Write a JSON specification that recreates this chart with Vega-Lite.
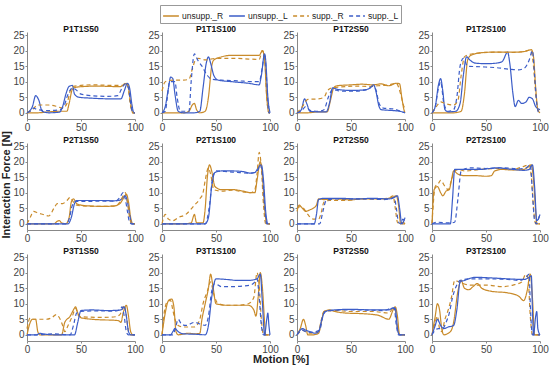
{
"$schema": "https://vega.github.io/schema/vega-lite/v6.json",
"padding": {"left": 0, "top": 4, "right": 2, "bottom": 2},
"title": {"text": "Interaction Force [N]", "orient": "left", "anchor": "middle", "fontSize": 11, "fontWeight": "bold", "font": "Liberation Sans", "offset": 1, "color": "#222"},
"data": {"values": [
{"panel":"P1T1S50","series":"unsupp._R","x":0,"y":0},{"panel":"P1T1S50","series":"unsupp._R","x":10,"y":0},{"panel":"P1T1S50","series":"unsupp._R","x":20,"y":0.3},{"panel":"P1T1S50","series":"unsupp._R","x":30,"y":0.5},{"panel":"P1T1S50","series":"unsupp._R","x":37,"y":0.5},{"panel":"P1T1S50","series":"unsupp._R","x":39,"y":3},{"panel":"P1T1S50","series":"unsupp._R","x":42,"y":7.5},{"panel":"P1T1S50","series":"unsupp._R","x":45,"y":8.2},{"panel":"P1T1S50","series":"unsupp._R","x":55,"y":8.5},{"panel":"P1T1S50","series":"unsupp._R","x":65,"y":8.6},{"panel":"P1T1S50","series":"unsupp._R","x":75,"y":8.5},{"panel":"P1T1S50","series":"unsupp._R","x":85,"y":8.4},{"panel":"P1T1S50","series":"unsupp._R","x":90,"y":9},{"panel":"P1T1S50","series":"unsupp._R","x":92,"y":9.5},{"panel":"P1T1S50","series":"unsupp._R","x":94,"y":8},{"panel":"P1T1S50","series":"unsupp._R","x":96,"y":3},{"panel":"P1T1S50","series":"unsupp._R","x":98,"y":0},{"panel":"P1T1S50","series":"unsupp._R","x":100,"y":0},
{"panel":"P1T1S50","series":"unsupp._L","x":0,"y":0},{"panel":"P1T1S50","series":"unsupp._L","x":5,"y":2},{"panel":"P1T1S50","series":"unsupp._L","x":8,"y":5.5},{"panel":"P1T1S50","series":"unsupp._L","x":11,"y":4},{"panel":"P1T1S50","series":"unsupp._L","x":14,"y":0.5},{"panel":"P1T1S50","series":"unsupp._L","x":20,"y":0},{"panel":"P1T1S50","series":"unsupp._L","x":30,"y":0.2},{"panel":"P1T1S50","series":"unsupp._L","x":33,"y":2},{"panel":"P1T1S50","series":"unsupp._L","x":36,"y":6},{"panel":"P1T1S50","series":"unsupp._L","x":39,"y":8.5},{"panel":"P1T1S50","series":"unsupp._L","x":42,"y":8.8},{"panel":"P1T1S50","series":"unsupp._L","x":44,"y":6},{"panel":"P1T1S50","series":"unsupp._L","x":48,"y":5},{"panel":"P1T1S50","series":"unsupp._L","x":60,"y":4.7},{"panel":"P1T1S50","series":"unsupp._L","x":75,"y":4.5},{"panel":"P1T1S50","series":"unsupp._L","x":87,"y":4.5},{"panel":"P1T1S50","series":"unsupp._L","x":90,"y":7},{"panel":"P1T1S50","series":"unsupp._L","x":93,"y":9.5},{"panel":"P1T1S50","series":"unsupp._L","x":95,"y":8},{"panel":"P1T1S50","series":"unsupp._L","x":97,"y":3},{"panel":"P1T1S50","series":"unsupp._L","x":99,"y":0},{"panel":"P1T1S50","series":"unsupp._L","x":100,"y":0},
{"panel":"P1T1S50","series":"supp._R","x":0,"y":0},{"panel":"P1T1S50","series":"supp._R","x":5,"y":1},{"panel":"P1T1S50","series":"supp._R","x":10,"y":2.5},{"panel":"P1T1S50","series":"supp._R","x":20,"y":2.5},{"panel":"P1T1S50","series":"supp._R","x":28,"y":2},{"panel":"P1T1S50","series":"supp._R","x":33,"y":1.5},{"panel":"P1T1S50","series":"supp._R","x":37,"y":3},{"panel":"P1T1S50","series":"supp._R","x":40,"y":7},{"panel":"P1T1S50","series":"supp._R","x":43,"y":8.5},{"panel":"P1T1S50","series":"supp._R","x":50,"y":8.8},{"panel":"P1T1S50","series":"supp._R","x":60,"y":9},{"panel":"P1T1S50","series":"supp._R","x":70,"y":8.9},{"panel":"P1T1S50","series":"supp._R","x":80,"y":8.8},{"panel":"P1T1S50","series":"supp._R","x":88,"y":8.8},{"panel":"P1T1S50","series":"supp._R","x":91,"y":9.5},{"panel":"P1T1S50","series":"supp._R","x":93,"y":9},{"panel":"P1T1S50","series":"supp._R","x":96,"y":2},{"panel":"P1T1S50","series":"supp._R","x":98,"y":0},{"panel":"P1T1S50","series":"supp._R","x":100,"y":0},
{"panel":"P1T1S50","series":"supp._L","x":0,"y":0},{"panel":"P1T1S50","series":"supp._L","x":3,"y":0.5},{"panel":"P1T1S50","series":"supp._L","x":6,"y":1.5},{"panel":"P1T1S50","series":"supp._L","x":10,"y":1},{"panel":"P1T1S50","series":"supp._L","x":20,"y":0.7},{"panel":"P1T1S50","series":"supp._L","x":30,"y":1},{"panel":"P1T1S50","series":"supp._L","x":34,"y":2},{"panel":"P1T1S50","series":"supp._L","x":38,"y":6},{"panel":"P1T1S50","series":"supp._L","x":42,"y":8},{"panel":"P1T1S50","series":"supp._L","x":45,"y":7.5},{"panel":"P1T1S50","series":"supp._L","x":50,"y":6},{"panel":"P1T1S50","series":"supp._L","x":60,"y":5.5},{"panel":"P1T1S50","series":"supp._L","x":75,"y":5.3},{"panel":"P1T1S50","series":"supp._L","x":84,"y":5.5},{"panel":"P1T1S50","series":"supp._L","x":88,"y":8},{"panel":"P1T1S50","series":"supp._L","x":91,"y":9.3},{"panel":"P1T1S50","series":"supp._L","x":94,"y":8},{"panel":"P1T1S50","series":"supp._L","x":96,"y":3},{"panel":"P1T1S50","series":"supp._L","x":98,"y":0},{"panel":"P1T1S50","series":"supp._L","x":100,"y":0},

{"panel":"P1T1S100","series":"unsupp._R","x":0,"y":0},{"panel":"P1T1S100","series":"unsupp._R","x":20,"y":0},{"panel":"P1T1S100","series":"unsupp._R","x":25,"y":0.5},{"panel":"P1T1S100","series":"unsupp._R","x":28,"y":2.5},{"panel":"P1T1S100","series":"unsupp._R","x":30,"y":3},{"panel":"P1T1S100","series":"unsupp._R","x":32,"y":1},{"panel":"P1T1S100","series":"unsupp._R","x":35,"y":0},{"panel":"P1T1S100","series":"unsupp._R","x":40,"y":0.5},{"panel":"P1T1S100","series":"unsupp._R","x":43,"y":5},{"panel":"P1T1S100","series":"unsupp._R","x":46,"y":15},{"panel":"P1T1S100","series":"unsupp._R","x":48,"y":17},{"panel":"P1T1S100","series":"unsupp._R","x":55,"y":18},{"panel":"P1T1S100","series":"unsupp._R","x":65,"y":18.5},{"panel":"P1T1S100","series":"unsupp._R","x":75,"y":18.5},{"panel":"P1T1S100","series":"unsupp._R","x":85,"y":18.5},{"panel":"P1T1S100","series":"unsupp._R","x":90,"y":18.5},{"panel":"P1T1S100","series":"unsupp._R","x":93,"y":20},{"panel":"P1T1S100","series":"unsupp._R","x":95,"y":17},{"panel":"P1T1S100","series":"unsupp._R","x":97,"y":5},{"panel":"P1T1S100","series":"unsupp._R","x":99,"y":0},{"panel":"P1T1S100","series":"unsupp._R","x":100,"y":0},
{"panel":"P1T1S100","series":"unsupp._L","x":0,"y":0},{"panel":"P1T1S100","series":"unsupp._L","x":3,"y":2},{"panel":"P1T1S100","series":"unsupp._L","x":6,"y":8},{"panel":"P1T1S100","series":"unsupp._L","x":8,"y":11.5},{"panel":"P1T1S100","series":"unsupp._L","x":10,"y":11},{"panel":"P1T1S100","series":"unsupp._L","x":12,"y":6},{"panel":"P1T1S100","series":"unsupp._L","x":15,"y":0.5},{"panel":"P1T1S100","series":"unsupp._L","x":20,"y":0},{"panel":"P1T1S100","series":"unsupp._L","x":30,"y":0},{"panel":"P1T1S100","series":"unsupp._L","x":35,"y":0.5},{"panel":"P1T1S100","series":"unsupp._L","x":38,"y":8},{"panel":"P1T1S100","series":"unsupp._L","x":41,"y":16},{"panel":"P1T1S100","series":"unsupp._L","x":43,"y":18},{"panel":"P1T1S100","series":"unsupp._L","x":45,"y":16},{"panel":"P1T1S100","series":"unsupp._L","x":48,"y":12},{"panel":"P1T1S100","series":"unsupp._L","x":52,"y":10.5},{"panel":"P1T1S100","series":"unsupp._L","x":65,"y":10},{"panel":"P1T1S100","series":"unsupp._L","x":80,"y":9.5},{"panel":"P1T1S100","series":"unsupp._L","x":90,"y":9},{"panel":"P1T1S100","series":"unsupp._L","x":92,"y":12},{"panel":"P1T1S100","series":"unsupp._L","x":95,"y":19},{"panel":"P1T1S100","series":"unsupp._L","x":96,"y":17},{"panel":"P1T1S100","series":"unsupp._L","x":98,"y":5},{"panel":"P1T1S100","series":"unsupp._L","x":100,"y":0},
{"panel":"P1T1S100","series":"supp._R","x":0,"y":7},{"panel":"P1T1S100","series":"supp._R","x":3,"y":10},{"panel":"P1T1S100","series":"supp._R","x":10,"y":10.5},{"panel":"P1T1S100","series":"supp._R","x":20,"y":10.5},{"panel":"P1T1S100","series":"supp._R","x":25,"y":10.8},{"panel":"P1T1S100","series":"supp._R","x":28,"y":14},{"panel":"P1T1S100","series":"supp._R","x":31,"y":17},{"panel":"P1T1S100","series":"supp._R","x":34,"y":17.5},{"panel":"P1T1S100","series":"supp._R","x":40,"y":17},{"panel":"P1T1S100","series":"supp._R","x":50,"y":17.5},{"panel":"P1T1S100","series":"supp._R","x":60,"y":17.5},{"panel":"P1T1S100","series":"supp._R","x":70,"y":17.5},{"panel":"P1T1S100","series":"supp._R","x":80,"y":17.3},{"panel":"P1T1S100","series":"supp._R","x":90,"y":17.2},{"panel":"P1T1S100","series":"supp._R","x":93,"y":20},{"panel":"P1T1S100","series":"supp._R","x":95,"y":18},{"panel":"P1T1S100","series":"supp._R","x":97,"y":5},{"panel":"P1T1S100","series":"supp._R","x":99,"y":0},{"panel":"P1T1S100","series":"supp._R","x":100,"y":0},
{"panel":"P1T1S100","series":"supp._L","x":0,"y":0},{"panel":"P1T1S100","series":"supp._L","x":3,"y":0.5},{"panel":"P1T1S100","series":"supp._L","x":5,"y":5},{"panel":"P1T1S100","series":"supp._L","x":7,"y":10},{"panel":"P1T1S100","series":"supp._L","x":12,"y":10},{"panel":"P1T1S100","series":"supp._L","x":14,"y":5},{"panel":"P1T1S100","series":"supp._L","x":17,"y":0.5},{"panel":"P1T1S100","series":"supp._L","x":25,"y":0.5},{"panel":"P1T1S100","series":"supp._L","x":27,"y":10},{"panel":"P1T1S100","series":"supp._L","x":30,"y":19},{"panel":"P1T1S100","series":"supp._L","x":33,"y":17},{"panel":"P1T1S100","series":"supp._L","x":37,"y":15},{"panel":"P1T1S100","series":"supp._L","x":42,"y":12},{"panel":"P1T1S100","series":"supp._L","x":46,"y":10.8},{"panel":"P1T1S100","series":"supp._L","x":55,"y":10.5},{"panel":"P1T1S100","series":"supp._L","x":70,"y":10.3},{"panel":"P1T1S100","series":"supp._L","x":85,"y":10},{"panel":"P1T1S100","series":"supp._L","x":90,"y":10},{"panel":"P1T1S100","series":"supp._L","x":93,"y":15},{"panel":"P1T1S100","series":"supp._L","x":95,"y":19},{"panel":"P1T1S100","series":"supp._L","x":97,"y":10},{"panel":"P1T1S100","series":"supp._L","x":99,"y":0},{"panel":"P1T1S100","series":"supp._L","x":100,"y":0},

{"panel":"P1T2S50","series":"unsupp._R","x":0,"y":0},{"panel":"P1T2S50","series":"unsupp._R","x":10,"y":0},{"panel":"P1T2S50","series":"unsupp._R","x":20,"y":0.3},{"panel":"P1T2S50","series":"unsupp._R","x":28,"y":0.3},{"panel":"P1T2S50","series":"unsupp._R","x":31,"y":4},{"panel":"P1T2S50","series":"unsupp._R","x":34,"y":8},{"panel":"P1T2S50","series":"unsupp._R","x":37,"y":8.7},{"panel":"P1T2S50","series":"unsupp._R","x":50,"y":9},{"panel":"P1T2S50","series":"unsupp._R","x":60,"y":9.2},{"panel":"P1T2S50","series":"unsupp._R","x":70,"y":9},{"panel":"P1T2S50","series":"unsupp._R","x":78,"y":9.3},{"panel":"P1T2S50","series":"unsupp._R","x":85,"y":8.7},{"panel":"P1T2S50","series":"unsupp._R","x":92,"y":9.5},{"panel":"P1T2S50","series":"unsupp._R","x":95,"y":9.3},{"panel":"P1T2S50","series":"unsupp._R","x":97,"y":5},{"panel":"P1T2S50","series":"unsupp._R","x":99,"y":1},{"panel":"P1T2S50","series":"unsupp._R","x":100,"y":0},
{"panel":"P1T2S50","series":"unsupp._L","x":0,"y":0},{"panel":"P1T2S50","series":"unsupp._L","x":4,"y":1},{"panel":"P1T2S50","series":"unsupp._L","x":7,"y":4.5},{"panel":"P1T2S50","series":"unsupp._L","x":9,"y":3},{"panel":"P1T2S50","series":"unsupp._L","x":12,"y":0.5},{"panel":"P1T2S50","series":"unsupp._L","x":20,"y":0.3},{"panel":"P1T2S50","series":"unsupp._L","x":27,"y":0.3},{"panel":"P1T2S50","series":"unsupp._L","x":30,"y":3},{"panel":"P1T2S50","series":"unsupp._L","x":33,"y":8},{"panel":"P1T2S50","series":"unsupp._L","x":38,"y":7.5},{"panel":"P1T2S50","series":"unsupp._L","x":50,"y":7.2},{"panel":"P1T2S50","series":"unsupp._L","x":60,"y":7.3},{"panel":"P1T2S50","series":"unsupp._L","x":67,"y":7.8},{"panel":"P1T2S50","series":"unsupp._L","x":71,"y":9},{"panel":"P1T2S50","series":"unsupp._L","x":73,"y":7},{"panel":"P1T2S50","series":"unsupp._L","x":76,"y":2},{"panel":"P1T2S50","series":"unsupp._L","x":78,"y":1},{"panel":"P1T2S50","series":"unsupp._L","x":85,"y":0.8},{"panel":"P1T2S50","series":"unsupp._L","x":95,"y":0.5},{"panel":"P1T2S50","series":"unsupp._L","x":100,"y":0},
{"panel":"P1T2S50","series":"supp._R","x":0,"y":0},{"panel":"P1T2S50","series":"supp._R","x":5,"y":2},{"panel":"P1T2S50","series":"supp._R","x":10,"y":4.3},{"panel":"P1T2S50","series":"supp._R","x":20,"y":4.5},{"panel":"P1T2S50","series":"supp._R","x":25,"y":5},{"panel":"P1T2S50","series":"supp._R","x":28,"y":7},{"panel":"P1T2S50","series":"supp._R","x":32,"y":8},{"panel":"P1T2S50","series":"supp._R","x":40,"y":8.3},{"panel":"P1T2S50","series":"supp._R","x":55,"y":8.6},{"panel":"P1T2S50","series":"supp._R","x":65,"y":8.5},{"panel":"P1T2S50","series":"supp._R","x":75,"y":8.7},{"panel":"P1T2S50","series":"supp._R","x":85,"y":9},{"panel":"P1T2S50","series":"supp._R","x":92,"y":9.5},{"panel":"P1T2S50","series":"supp._R","x":96,"y":6},{"panel":"P1T2S50","series":"supp._R","x":99,"y":2},{"panel":"P1T2S50","series":"supp._R","x":100,"y":1.5},
{"panel":"P1T2S50","series":"supp._L","x":0,"y":0},{"panel":"P1T2S50","series":"supp._L","x":4,"y":0.5},{"panel":"P1T2S50","series":"supp._L","x":8,"y":2},{"panel":"P1T2S50","series":"supp._L","x":12,"y":0.8},{"panel":"P1T2S50","series":"supp._L","x":20,"y":0.5},{"panel":"P1T2S50","series":"supp._L","x":25,"y":1},{"panel":"P1T2S50","series":"supp._L","x":29,"y":5},{"panel":"P1T2S50","series":"supp._L","x":33,"y":7.5},{"panel":"P1T2S50","series":"supp._L","x":40,"y":7},{"panel":"P1T2S50","series":"supp._L","x":55,"y":7},{"panel":"P1T2S50","series":"supp._L","x":65,"y":7.5},{"panel":"P1T2S50","series":"supp._L","x":70,"y":8.5},{"panel":"P1T2S50","series":"supp._L","x":73,"y":7.5},{"panel":"P1T2S50","series":"supp._L","x":76,"y":3},{"panel":"P1T2S50","series":"supp._L","x":80,"y":1.5},{"panel":"P1T2S50","series":"supp._L","x":90,"y":1.2},{"panel":"P1T2S50","series":"supp._L","x":97,"y":0.3},{"panel":"P1T2S50","series":"supp._L","x":100,"y":0},

{"panel":"P1T2S100","series":"unsupp._R","x":0,"y":0},{"panel":"P1T2S100","series":"unsupp._R","x":10,"y":0},{"panel":"P1T2S100","series":"unsupp._R","x":20,"y":0},{"panel":"P1T2S100","series":"unsupp._R","x":27,"y":0.5},{"panel":"P1T2S100","series":"unsupp._R","x":30,"y":6},{"panel":"P1T2S100","series":"unsupp._R","x":33,"y":17},{"panel":"P1T2S100","series":"unsupp._R","x":36,"y":18.5},{"panel":"P1T2S100","series":"unsupp._R","x":45,"y":19.3},{"panel":"P1T2S100","series":"unsupp._R","x":55,"y":19.5},{"panel":"P1T2S100","series":"unsupp._R","x":65,"y":19.5},{"panel":"P1T2S100","series":"unsupp._R","x":75,"y":19.5},{"panel":"P1T2S100","series":"unsupp._R","x":85,"y":19.7},{"panel":"P1T2S100","series":"unsupp._R","x":92,"y":20.3},{"panel":"P1T2S100","series":"unsupp._R","x":94,"y":18},{"panel":"P1T2S100","series":"unsupp._R","x":96,"y":8},{"panel":"P1T2S100","series":"unsupp._R","x":98,"y":1},{"panel":"P1T2S100","series":"unsupp._R","x":100,"y":0},
{"panel":"P1T2S100","series":"unsupp._L","x":0,"y":0},{"panel":"P1T2S100","series":"unsupp._L","x":3,"y":2},{"panel":"P1T2S100","series":"unsupp._L","x":6,"y":9},{"panel":"P1T2S100","series":"unsupp._L","x":8,"y":11},{"panel":"P1T2S100","series":"unsupp._L","x":10,"y":7},{"panel":"P1T2S100","series":"unsupp._L","x":12,"y":1},{"panel":"P1T2S100","series":"unsupp._L","x":15,"y":0.3},{"panel":"P1T2S100","series":"unsupp._L","x":22,"y":0.5},{"panel":"P1T2S100","series":"unsupp._L","x":26,"y":3},{"panel":"P1T2S100","series":"unsupp._L","x":29,"y":12},{"panel":"P1T2S100","series":"unsupp._L","x":32,"y":18},{"panel":"P1T2S100","series":"unsupp._L","x":35,"y":17},{"panel":"P1T2S100","series":"unsupp._L","x":40,"y":16},{"panel":"P1T2S100","series":"unsupp._L","x":50,"y":15.8},{"panel":"P1T2S100","series":"unsupp._L","x":60,"y":16},{"panel":"P1T2S100","series":"unsupp._L","x":65,"y":16.5},{"panel":"P1T2S100","series":"unsupp._L","x":70,"y":19.5},{"panel":"P1T2S100","series":"unsupp._L","x":72,"y":16},{"panel":"P1T2S100","series":"unsupp._L","x":75,"y":6},{"panel":"P1T2S100","series":"unsupp._L","x":77,"y":2},{"panel":"P1T2S100","series":"unsupp._L","x":80,"y":4},{"panel":"P1T2S100","series":"unsupp._L","x":83,"y":3},{"panel":"P1T2S100","series":"unsupp._L","x":87,"y":3.5},{"panel":"P1T2S100","series":"unsupp._L","x":90,"y":5},{"panel":"P1T2S100","series":"unsupp._L","x":93,"y":4.5},{"panel":"P1T2S100","series":"unsupp._L","x":96,"y":2},{"panel":"P1T2S100","series":"unsupp._L","x":100,"y":1},
{"panel":"P1T2S100","series":"supp._R","x":0,"y":0},{"panel":"P1T2S100","series":"supp._R","x":4,"y":2},{"panel":"P1T2S100","series":"supp._R","x":8,"y":3.5},{"panel":"P1T2S100","series":"supp._R","x":12,"y":3},{"panel":"P1T2S100","series":"supp._R","x":20,"y":2.5},{"panel":"P1T2S100","series":"supp._R","x":24,"y":4},{"panel":"P1T2S100","series":"supp._R","x":27,"y":12},{"panel":"P1T2S100","series":"supp._R","x":30,"y":18},{"panel":"P1T2S100","series":"supp._R","x":34,"y":18.7},{"panel":"P1T2S100","series":"supp._R","x":45,"y":19.3},{"panel":"P1T2S100","series":"supp._R","x":60,"y":19.5},{"panel":"P1T2S100","series":"supp._R","x":75,"y":19.4},{"panel":"P1T2S100","series":"supp._R","x":85,"y":19.7},{"panel":"P1T2S100","series":"supp._R","x":91,"y":20.2},{"panel":"P1T2S100","series":"supp._R","x":94,"y":15},{"panel":"P1T2S100","series":"supp._R","x":96,"y":6},{"panel":"P1T2S100","series":"supp._R","x":98,"y":1},{"panel":"P1T2S100","series":"supp._R","x":100,"y":0},
{"panel":"P1T2S100","series":"supp._L","x":0,"y":0},{"panel":"P1T2S100","series":"supp._L","x":3,"y":2},{"panel":"P1T2S100","series":"supp._L","x":6,"y":8},{"panel":"P1T2S100","series":"supp._L","x":8,"y":10},{"panel":"P1T2S100","series":"supp._L","x":11,"y":3},{"panel":"P1T2S100","series":"supp._L","x":15,"y":0.5},{"panel":"P1T2S100","series":"supp._L","x":20,"y":1},{"panel":"P1T2S100","series":"supp._L","x":23,"y":5},{"panel":"P1T2S100","series":"supp._L","x":26,"y":15},{"panel":"P1T2S100","series":"supp._L","x":29,"y":17.5},{"panel":"P1T2S100","series":"supp._L","x":33,"y":15},{"panel":"P1T2S100","series":"supp._L","x":45,"y":14.8},{"panel":"P1T2S100","series":"supp._L","x":60,"y":14.5},{"panel":"P1T2S100","series":"supp._L","x":72,"y":14},{"panel":"P1T2S100","series":"supp._L","x":80,"y":13.8},{"panel":"P1T2S100","series":"supp._L","x":86,"y":14.5},{"panel":"P1T2S100","series":"supp._L","x":90,"y":17},{"panel":"P1T2S100","series":"supp._L","x":93,"y":20},{"panel":"P1T2S100","series":"supp._L","x":95,"y":12},{"panel":"P1T2S100","series":"supp._L","x":97,"y":3},{"panel":"P1T2S100","series":"supp._L","x":99,"y":0},{"panel":"P1T2S100","series":"supp._L","x":100,"y":0},

{"panel":"P2T1S50","series":"unsupp._R","x":0,"y":0},{"panel":"P2T1S50","series":"unsupp._R","x":25,"y":0},{"panel":"P2T1S50","series":"unsupp._R","x":28,"y":0.8},{"panel":"P2T1S50","series":"unsupp._R","x":30,"y":1},{"panel":"P2T1S50","series":"unsupp._R","x":32,"y":0.3},{"panel":"P2T1S50","series":"unsupp._R","x":36,"y":0},{"panel":"P2T1S50","series":"unsupp._R","x":39,"y":2},{"panel":"P2T1S50","series":"unsupp._R","x":41,"y":7},{"panel":"P2T1S50","series":"unsupp._R","x":43,"y":8},{"panel":"P2T1S50","series":"unsupp._R","x":46,"y":6.5},{"panel":"P2T1S50","series":"unsupp._R","x":50,"y":6},{"panel":"P2T1S50","series":"unsupp._R","x":60,"y":5.7},{"panel":"P2T1S50","series":"unsupp._R","x":70,"y":5.6},{"panel":"P2T1S50","series":"unsupp._R","x":80,"y":5.7},{"panel":"P2T1S50","series":"unsupp._R","x":86,"y":6.5},{"panel":"P2T1S50","series":"unsupp._R","x":89,"y":8},{"panel":"P2T1S50","series":"unsupp._R","x":92,"y":9.5},{"panel":"P2T1S50","series":"unsupp._R","x":94,"y":7},{"panel":"P2T1S50","series":"unsupp._R","x":96,"y":2},{"panel":"P2T1S50","series":"unsupp._R","x":98,"y":0},{"panel":"P2T1S50","series":"unsupp._R","x":100,"y":0},
{"panel":"P2T1S50","series":"unsupp._L","x":0,"y":0},{"panel":"P2T1S50","series":"unsupp._L","x":20,"y":0},{"panel":"P2T1S50","series":"unsupp._L","x":38,"y":0},{"panel":"P2T1S50","series":"unsupp._L","x":41,"y":2},{"panel":"P2T1S50","series":"unsupp._L","x":44,"y":6.5},{"panel":"P2T1S50","series":"unsupp._L","x":46,"y":7.5},{"panel":"P2T1S50","series":"unsupp._L","x":55,"y":7.5},{"panel":"P2T1S50","series":"unsupp._L","x":70,"y":7.5},{"panel":"P2T1S50","series":"unsupp._L","x":80,"y":7.4},{"panel":"P2T1S50","series":"unsupp._L","x":86,"y":7.6},{"panel":"P2T1S50","series":"unsupp._L","x":89,"y":8.5},{"panel":"P2T1S50","series":"unsupp._L","x":91,"y":9},{"panel":"P2T1S50","series":"unsupp._L","x":93,"y":7},{"panel":"P2T1S50","series":"unsupp._L","x":95,"y":3},{"panel":"P2T1S50","series":"unsupp._L","x":97,"y":0},{"panel":"P2T1S50","series":"unsupp._L","x":100,"y":0},
{"panel":"P2T1S50","series":"supp._R","x":0,"y":0},{"panel":"P2T1S50","series":"supp._R","x":3,"y":2},{"panel":"P2T1S50","series":"supp._R","x":6,"y":4},{"panel":"P2T1S50","series":"supp._R","x":10,"y":3.5},{"panel":"P2T1S50","series":"supp._R","x":15,"y":3},{"panel":"P2T1S50","series":"supp._R","x":20,"y":2.5},{"panel":"P2T1S50","series":"supp._R","x":25,"y":5},{"panel":"P2T1S50","series":"supp._R","x":28,"y":6.5},{"panel":"P2T1S50","series":"supp._R","x":33,"y":6.5},{"panel":"P2T1S50","series":"supp._R","x":37,"y":7.5},{"panel":"P2T1S50","series":"supp._R","x":40,"y":8.5},{"panel":"P2T1S50","series":"supp._R","x":43,"y":7},{"panel":"P2T1S50","series":"supp._R","x":46,"y":6},{"panel":"P2T1S50","series":"supp._R","x":55,"y":5.7},{"panel":"P2T1S50","series":"supp._R","x":70,"y":5.6},{"panel":"P2T1S50","series":"supp._R","x":82,"y":5.8},{"panel":"P2T1S50","series":"supp._R","x":86,"y":7},{"panel":"P2T1S50","series":"supp._R","x":89,"y":9},{"panel":"P2T1S50","series":"supp._R","x":91,"y":10},{"panel":"P2T1S50","series":"supp._R","x":93,"y":7},{"panel":"P2T1S50","series":"supp._R","x":95,"y":2},{"panel":"P2T1S50","series":"supp._R","x":97,"y":0},{"panel":"P2T1S50","series":"supp._R","x":100,"y":0},
{"panel":"P2T1S50","series":"supp._L","x":0,"y":0},{"panel":"P2T1S50","series":"supp._L","x":20,"y":0},{"panel":"P2T1S50","series":"supp._L","x":36,"y":0},{"panel":"P2T1S50","series":"supp._L","x":39,"y":1.5},{"panel":"P2T1S50","series":"supp._L","x":42,"y":6},{"panel":"P2T1S50","series":"supp._L","x":45,"y":7.2},{"panel":"P2T1S50","series":"supp._L","x":55,"y":7.2},{"panel":"P2T1S50","series":"supp._L","x":70,"y":7.3},{"panel":"P2T1S50","series":"supp._L","x":82,"y":7.3},{"panel":"P2T1S50","series":"supp._L","x":86,"y":8.5},{"panel":"P2T1S50","series":"supp._L","x":89,"y":10},{"panel":"P2T1S50","series":"supp._L","x":91,"y":8},{"panel":"P2T1S50","series":"supp._L","x":93,"y":4},{"panel":"P2T1S50","series":"supp._L","x":95,"y":0.5},{"panel":"P2T1S50","series":"supp._L","x":97,"y":0},{"panel":"P2T1S50","series":"supp._L","x":100,"y":0},

{"panel":"P2T1S100","series":"unsupp._R","x":0,"y":0},{"panel":"P2T1S100","series":"unsupp._R","x":20,"y":0},{"panel":"P2T1S100","series":"unsupp._R","x":27,"y":0.3},{"panel":"P2T1S100","series":"unsupp._R","x":30,"y":3},{"panel":"P2T1S100","series":"unsupp._R","x":32,"y":0.3},{"panel":"P2T1S100","series":"unsupp._R","x":38,"y":0.3},{"panel":"P2T1S100","series":"unsupp._R","x":40,"y":5},{"panel":"P2T1S100","series":"unsupp._R","x":42,"y":15},{"panel":"P2T1S100","series":"unsupp._R","x":44,"y":19},{"panel":"P2T1S100","series":"unsupp._R","x":46,"y":17},{"panel":"P2T1S100","series":"unsupp._R","x":49,"y":12},{"panel":"P2T1S100","series":"unsupp._R","x":55,"y":11},{"panel":"P2T1S100","series":"unsupp._R","x":65,"y":11},{"panel":"P2T1S100","series":"unsupp._R","x":75,"y":10.5},{"panel":"P2T1S100","series":"unsupp._R","x":82,"y":10},{"panel":"P2T1S100","series":"unsupp._R","x":86,"y":10},{"panel":"P2T1S100","series":"unsupp._R","x":88,"y":14},{"panel":"P2T1S100","series":"unsupp._R","x":91,"y":20},{"panel":"P2T1S100","series":"unsupp._R","x":93,"y":15},{"panel":"P2T1S100","series":"unsupp._R","x":95,"y":5},{"panel":"P2T1S100","series":"unsupp._R","x":97,"y":0},{"panel":"P2T1S100","series":"unsupp._R","x":100,"y":0},
{"panel":"P2T1S100","series":"unsupp._L","x":0,"y":0},{"panel":"P2T1S100","series":"unsupp._L","x":20,"y":0},{"panel":"P2T1S100","series":"unsupp._L","x":40,"y":0},{"panel":"P2T1S100","series":"unsupp._L","x":43,"y":2},{"panel":"P2T1S100","series":"unsupp._L","x":46,"y":12},{"panel":"P2T1S100","series":"unsupp._L","x":49,"y":16.5},{"panel":"P2T1S100","series":"unsupp._L","x":55,"y":17},{"panel":"P2T1S100","series":"unsupp._L","x":65,"y":17},{"panel":"P2T1S100","series":"unsupp._L","x":75,"y":16.8},{"panel":"P2T1S100","series":"unsupp._L","x":82,"y":16.3},{"panel":"P2T1S100","series":"unsupp._L","x":86,"y":16.5},{"panel":"P2T1S100","series":"unsupp._L","x":89,"y":18},{"panel":"P2T1S100","series":"unsupp._L","x":92,"y":19},{"panel":"P2T1S100","series":"unsupp._L","x":94,"y":14},{"panel":"P2T1S100","series":"unsupp._L","x":96,"y":4},{"panel":"P2T1S100","series":"unsupp._L","x":98,"y":0},{"panel":"P2T1S100","series":"unsupp._L","x":100,"y":0},
{"panel":"P2T1S100","series":"supp._R","x":0,"y":0},{"panel":"P2T1S100","series":"supp._R","x":3,"y":3},{"panel":"P2T1S100","series":"supp._R","x":6,"y":1.5},{"panel":"P2T1S100","series":"supp._R","x":10,"y":1},{"panel":"P2T1S100","series":"supp._R","x":15,"y":2},{"panel":"P2T1S100","series":"supp._R","x":22,"y":3},{"panel":"P2T1S100","series":"supp._R","x":30,"y":6},{"panel":"P2T1S100","series":"supp._R","x":35,"y":8},{"panel":"P2T1S100","series":"supp._R","x":38,"y":10},{"panel":"P2T1S100","series":"supp._R","x":40,"y":14},{"panel":"P2T1S100","series":"supp._R","x":43,"y":18},{"panel":"P2T1S100","series":"supp._R","x":45,"y":16},{"panel":"P2T1S100","series":"supp._R","x":48,"y":11},{"panel":"P2T1S100","series":"supp._R","x":55,"y":10.5},{"panel":"P2T1S100","series":"supp._R","x":65,"y":10.8},{"panel":"P2T1S100","series":"supp._R","x":75,"y":10.3},{"panel":"P2T1S100","series":"supp._R","x":82,"y":10},{"panel":"P2T1S100","series":"supp._R","x":86,"y":11},{"panel":"P2T1S100","series":"supp._R","x":88,"y":16},{"panel":"P2T1S100","series":"supp._R","x":90,"y":23},{"panel":"P2T1S100","series":"supp._R","x":92,"y":18},{"panel":"P2T1S100","series":"supp._R","x":94,"y":6},{"panel":"P2T1S100","series":"supp._R","x":96,"y":0},{"panel":"P2T1S100","series":"supp._R","x":100,"y":0},
{"panel":"P2T1S100","series":"supp._L","x":0,"y":0},{"panel":"P2T1S100","series":"supp._L","x":20,"y":0},{"panel":"P2T1S100","series":"supp._L","x":40,"y":0},{"panel":"P2T1S100","series":"supp._L","x":44,"y":6},{"panel":"P2T1S100","series":"supp._L","x":47,"y":15},{"panel":"P2T1S100","series":"supp._L","x":50,"y":17},{"panel":"P2T1S100","series":"supp._L","x":60,"y":16.8},{"panel":"P2T1S100","series":"supp._L","x":70,"y":16.5},{"panel":"P2T1S100","series":"supp._L","x":80,"y":16.3},{"panel":"P2T1S100","series":"supp._L","x":86,"y":16.5},{"panel":"P2T1S100","series":"supp._L","x":89,"y":17.5},{"panel":"P2T1S100","series":"supp._L","x":91,"y":19},{"panel":"P2T1S100","series":"supp._L","x":93,"y":16},{"panel":"P2T1S100","series":"supp._L","x":95,"y":6},{"panel":"P2T1S100","series":"supp._L","x":97,"y":0},{"panel":"P2T1S100","series":"supp._L","x":100,"y":0},

{"panel":"P2T2S50","series":"unsupp._R","x":0,"y":4},{"panel":"P2T2S50","series":"unsupp._R","x":2,"y":6},{"panel":"P2T2S50","series":"unsupp._R","x":5,"y":5},{"panel":"P2T2S50","series":"unsupp._R","x":8,"y":4},{"panel":"P2T2S50","series":"unsupp._R","x":12,"y":4.5},{"panel":"P2T2S50","series":"unsupp._R","x":15,"y":5},{"panel":"P2T2S50","series":"unsupp._R","x":18,"y":6},{"panel":"P2T2S50","series":"unsupp._R","x":20,"y":8},{"panel":"P2T2S50","series":"unsupp._R","x":25,"y":7.8},{"panel":"P2T2S50","series":"unsupp._R","x":35,"y":8},{"panel":"P2T2S50","series":"unsupp._R","x":50,"y":7.7},{"panel":"P2T2S50","series":"unsupp._R","x":60,"y":8},{"panel":"P2T2S50","series":"unsupp._R","x":70,"y":8},{"panel":"P2T2S50","series":"unsupp._R","x":80,"y":8},{"panel":"P2T2S50","series":"unsupp._R","x":88,"y":8.5},{"panel":"P2T2S50","series":"unsupp._R","x":92,"y":9},{"panel":"P2T2S50","series":"unsupp._R","x":94,"y":6},{"panel":"P2T2S50","series":"unsupp._R","x":96,"y":0},{"panel":"P2T2S50","series":"unsupp._R","x":98,"y":0.5},{"panel":"P2T2S50","series":"unsupp._R","x":100,"y":0},
{"panel":"P2T2S50","series":"supp._R","x":0,"y":5},{"panel":"P2T2S50","series":"supp._R","x":3,"y":5.5},{"panel":"P2T2S50","series":"supp._R","x":6,"y":5},{"panel":"P2T2S50","series":"supp._R","x":10,"y":3},{"panel":"P2T2S50","series":"supp._R","x":15,"y":1.5},{"panel":"P2T2S50","series":"supp._R","x":20,"y":1.5},{"panel":"P2T2S50","series":"supp._R","x":22,"y":3},{"panel":"P2T2S50","series":"supp._R","x":25,"y":7},{"panel":"P2T2S50","series":"supp._R","x":30,"y":7.5},{"panel":"P2T2S50","series":"supp._R","x":45,"y":7.5},{"panel":"P2T2S50","series":"supp._R","x":60,"y":8},{"panel":"P2T2S50","series":"supp._R","x":75,"y":8},{"panel":"P2T2S50","series":"supp._R","x":85,"y":8.3},{"panel":"P2T2S50","series":"supp._R","x":89,"y":9},{"panel":"P2T2S50","series":"supp._R","x":91,"y":5},{"panel":"P2T2S50","series":"supp._R","x":93,"y":0.5},{"panel":"P2T2S50","series":"supp._R","x":95,"y":0},{"panel":"P2T2S50","series":"supp._R","x":100,"y":0},
{"panel":"P2T2S50","series":"unsupp._L","x":0,"y":0},{"panel":"P2T2S50","series":"unsupp._L","x":10,"y":0},{"panel":"P2T2S50","series":"unsupp._L","x":16,"y":0},{"panel":"P2T2S50","series":"unsupp._L","x":18,"y":3},{"panel":"P2T2S50","series":"unsupp._L","x":20,"y":7.8},{"panel":"P2T2S50","series":"unsupp._L","x":25,"y":8.2},{"panel":"P2T2S50","series":"unsupp._L","x":40,"y":8.2},{"panel":"P2T2S50","series":"unsupp._L","x":55,"y":8},{"panel":"P2T2S50","series":"unsupp._L","x":70,"y":8.2},{"panel":"P2T2S50","series":"unsupp._L","x":85,"y":8},{"panel":"P2T2S50","series":"unsupp._L","x":90,"y":8.5},{"panel":"P2T2S50","series":"unsupp._L","x":93,"y":9},{"panel":"P2T2S50","series":"unsupp._L","x":95,"y":5},{"panel":"P2T2S50","series":"unsupp._L","x":97,"y":0},{"panel":"P2T2S50","series":"unsupp._L","x":99,"y":1},{"panel":"P2T2S50","series":"unsupp._L","x":100,"y":2},
{"panel":"P2T2S50","series":"supp._L","x":0,"y":0},{"panel":"P2T2S50","series":"supp._L","x":15,"y":0},{"panel":"P2T2S50","series":"supp._L","x":21,"y":0},{"panel":"P2T2S50","series":"supp._L","x":24,"y":4},{"panel":"P2T2S50","series":"supp._L","x":27,"y":7.5},{"panel":"P2T2S50","series":"supp._L","x":35,"y":8},{"panel":"P2T2S50","series":"supp._L","x":50,"y":8},{"panel":"P2T2S50","series":"supp._L","x":65,"y":8},{"panel":"P2T2S50","series":"supp._L","x":80,"y":7.8},{"panel":"P2T2S50","series":"supp._L","x":88,"y":8.2},{"panel":"P2T2S50","series":"supp._L","x":90,"y":8.5},{"panel":"P2T2S50","series":"supp._L","x":92,"y":5},{"panel":"P2T2S50","series":"supp._L","x":94,"y":0.5},{"panel":"P2T2S50","series":"supp._L","x":96,"y":0},{"panel":"P2T2S50","series":"supp._L","x":98,"y":1.5},{"panel":"P2T2S50","series":"supp._L","x":100,"y":0.5},

{"panel":"P2T2S100","series":"unsupp._R","x":0,"y":0},{"panel":"P2T2S100","series":"unsupp._R","x":2,"y":11},{"panel":"P2T2S100","series":"unsupp._R","x":5,"y":12},{"panel":"P2T2S100","series":"unsupp._R","x":8,"y":10},{"panel":"P2T2S100","series":"unsupp._R","x":10,"y":9},{"panel":"P2T2S100","series":"unsupp._R","x":13,"y":10.5},{"panel":"P2T2S100","series":"unsupp._R","x":16,"y":11},{"panel":"P2T2S100","series":"unsupp._R","x":18,"y":14},{"panel":"P2T2S100","series":"unsupp._R","x":20,"y":17},{"panel":"P2T2S100","series":"unsupp._R","x":24,"y":16},{"panel":"P2T2S100","series":"unsupp._R","x":30,"y":15.5},{"panel":"P2T2S100","series":"unsupp._R","x":40,"y":15.5},{"panel":"P2T2S100","series":"unsupp._R","x":50,"y":15.3},{"panel":"P2T2S100","series":"unsupp._R","x":55,"y":15.5},{"panel":"P2T2S100","series":"unsupp._R","x":58,"y":17},{"panel":"P2T2S100","series":"unsupp._R","x":65,"y":17.5},{"panel":"P2T2S100","series":"unsupp._R","x":75,"y":17.3},{"panel":"P2T2S100","series":"unsupp._R","x":85,"y":17.5},{"panel":"P2T2S100","series":"unsupp._R","x":90,"y":18.5},{"panel":"P2T2S100","series":"unsupp._R","x":92,"y":19},{"panel":"P2T2S100","series":"unsupp._R","x":94,"y":14},{"panel":"P2T2S100","series":"unsupp._R","x":96,"y":4},{"panel":"P2T2S100","series":"unsupp._R","x":97,"y":0},{"panel":"P2T2S100","series":"unsupp._R","x":100,"y":0},
{"panel":"P2T2S100","series":"supp._R","x":0,"y":0},{"panel":"P2T2S100","series":"supp._R","x":3,"y":12},{"panel":"P2T2S100","series":"supp._R","x":6,"y":13},{"panel":"P2T2S100","series":"supp._R","x":8,"y":14},{"panel":"P2T2S100","series":"supp._R","x":12,"y":12},{"panel":"P2T2S100","series":"supp._R","x":15,"y":11},{"panel":"P2T2S100","series":"supp._R","x":18,"y":14},{"panel":"P2T2S100","series":"supp._R","x":21,"y":17},{"panel":"P2T2S100","series":"supp._R","x":25,"y":17.5},{"panel":"P2T2S100","series":"supp._R","x":30,"y":17},{"panel":"P2T2S100","series":"supp._R","x":45,"y":17.5},{"panel":"P2T2S100","series":"supp._R","x":60,"y":17.8},{"panel":"P2T2S100","series":"supp._R","x":75,"y":17.5},{"panel":"P2T2S100","series":"supp._R","x":85,"y":18.5},{"panel":"P2T2S100","series":"supp._R","x":90,"y":19},{"panel":"P2T2S100","series":"supp._R","x":92,"y":15},{"panel":"P2T2S100","series":"supp._R","x":94,"y":5},{"panel":"P2T2S100","series":"supp._R","x":96,"y":0},{"panel":"P2T2S100","series":"supp._R","x":100,"y":0},
{"panel":"P2T2S100","series":"unsupp._L","x":0,"y":0},{"panel":"P2T2S100","series":"unsupp._L","x":5,"y":0},{"panel":"P2T2S100","series":"unsupp._L","x":17,"y":0},{"panel":"P2T2S100","series":"unsupp._L","x":19,"y":8},{"panel":"P2T2S100","series":"unsupp._L","x":21,"y":17.5},{"panel":"P2T2S100","series":"unsupp._L","x":30,"y":17.5},{"panel":"P2T2S100","series":"unsupp._L","x":45,"y":17.5},{"panel":"P2T2S100","series":"unsupp._L","x":60,"y":18},{"panel":"P2T2S100","series":"unsupp._L","x":75,"y":17.5},{"panel":"P2T2S100","series":"unsupp._L","x":85,"y":17.2},{"panel":"P2T2S100","series":"unsupp._L","x":90,"y":17.5},{"panel":"P2T2S100","series":"unsupp._L","x":93,"y":19},{"panel":"P2T2S100","series":"unsupp._L","x":95,"y":12},{"panel":"P2T2S100","series":"unsupp._L","x":97,"y":1},{"panel":"P2T2S100","series":"unsupp._L","x":99,"y":2},{"panel":"P2T2S100","series":"unsupp._L","x":100,"y":3},
{"panel":"P2T2S100","series":"supp._L","x":0,"y":0},{"panel":"P2T2S100","series":"supp._L","x":5,"y":0.5},{"panel":"P2T2S100","series":"supp._L","x":15,"y":0.3},{"panel":"P2T2S100","series":"supp._L","x":21,"y":0.5},{"panel":"P2T2S100","series":"supp._L","x":24,"y":8},{"panel":"P2T2S100","series":"supp._L","x":27,"y":17},{"panel":"P2T2S100","series":"supp._L","x":35,"y":18},{"panel":"P2T2S100","series":"supp._L","x":50,"y":17.8},{"panel":"P2T2S100","series":"supp._L","x":65,"y":18},{"panel":"P2T2S100","series":"supp._L","x":80,"y":17.7},{"panel":"P2T2S100","series":"supp._L","x":87,"y":18},{"panel":"P2T2S100","series":"supp._L","x":91,"y":19},{"panel":"P2T2S100","series":"supp._L","x":93,"y":10},{"panel":"P2T2S100","series":"supp._L","x":95,"y":1},{"panel":"P2T2S100","series":"supp._L","x":97,"y":0},{"panel":"P2T2S100","series":"supp._L","x":99,"y":2},{"panel":"P2T2S100","series":"supp._L","x":100,"y":3},

{"panel":"P3T1S50","series":"unsupp._R","x":0,"y":0},{"panel":"P3T1S50","series":"unsupp._R","x":3,"y":4},{"panel":"P3T1S50","series":"unsupp._R","x":5,"y":5},{"panel":"P3T1S50","series":"unsupp._R","x":8,"y":5},{"panel":"P3T1S50","series":"unsupp._R","x":10,"y":1},{"panel":"P3T1S50","series":"unsupp._R","x":12,"y":0},{"panel":"P3T1S50","series":"unsupp._R","x":25,"y":0},{"panel":"P3T1S50","series":"unsupp._R","x":32,"y":0},{"panel":"P3T1S50","series":"unsupp._R","x":35,"y":4},{"panel":"P3T1S50","series":"unsupp._R","x":40,"y":6},{"panel":"P3T1S50","series":"unsupp._R","x":43,"y":8},{"panel":"P3T1S50","series":"unsupp._R","x":45,"y":9},{"panel":"P3T1S50","series":"unsupp._R","x":47,"y":7},{"panel":"P3T1S50","series":"unsupp._R","x":50,"y":5.5},{"panel":"P3T1S50","series":"unsupp._R","x":60,"y":5},{"panel":"P3T1S50","series":"unsupp._R","x":70,"y":4.8},{"panel":"P3T1S50","series":"unsupp._R","x":80,"y":4.7},{"panel":"P3T1S50","series":"unsupp._R","x":85,"y":4.5},{"panel":"P3T1S50","series":"unsupp._R","x":87,"y":4},{"panel":"P3T1S50","series":"unsupp._R","x":89,"y":7},{"panel":"P3T1S50","series":"unsupp._R","x":92,"y":9.5},{"panel":"P3T1S50","series":"unsupp._R","x":94,"y":6},{"panel":"P3T1S50","series":"unsupp._R","x":96,"y":1},{"panel":"P3T1S50","series":"unsupp._R","x":98,"y":0},{"panel":"P3T1S50","series":"unsupp._R","x":100,"y":0},
{"panel":"P3T1S50","series":"supp._R","x":0,"y":2},{"panel":"P3T1S50","series":"supp._R","x":3,"y":5.5},{"panel":"P3T1S50","series":"supp._R","x":6,"y":5},{"panel":"P3T1S50","series":"supp._R","x":12,"y":5},{"panel":"P3T1S50","series":"supp._R","x":18,"y":5},{"panel":"P3T1S50","series":"supp._R","x":23,"y":5.5},{"panel":"P3T1S50","series":"supp._R","x":27,"y":6.5},{"panel":"P3T1S50","series":"supp._R","x":30,"y":5.5},{"panel":"P3T1S50","series":"supp._R","x":33,"y":3},{"panel":"P3T1S50","series":"supp._R","x":35,"y":1},{"panel":"P3T1S50","series":"supp._R","x":38,"y":3},{"panel":"P3T1S50","series":"supp._R","x":42,"y":6},{"panel":"P3T1S50","series":"supp._R","x":45,"y":8.5},{"panel":"P3T1S50","series":"supp._R","x":48,"y":6},{"panel":"P3T1S50","series":"supp._R","x":55,"y":5.7},{"panel":"P3T1S50","series":"supp._R","x":70,"y":5.6},{"panel":"P3T1S50","series":"supp._R","x":82,"y":5.8},{"panel":"P3T1S50","series":"supp._R","x":86,"y":6.5},{"panel":"P3T1S50","series":"supp._R","x":88,"y":8},{"panel":"P3T1S50","series":"supp._R","x":90,"y":9.5},{"panel":"P3T1S50","series":"supp._R","x":92,"y":6},{"panel":"P3T1S50","series":"supp._R","x":94,"y":1},{"panel":"P3T1S50","series":"supp._R","x":96,"y":0},{"panel":"P3T1S50","series":"supp._R","x":100,"y":0},
{"panel":"P3T1S50","series":"unsupp._L","x":0,"y":0},{"panel":"P3T1S50","series":"unsupp._L","x":9,"y":0},{"panel":"P3T1S50","series":"unsupp._L","x":12,"y":0.5},{"panel":"P3T1S50","series":"unsupp._L","x":15,"y":0.3},{"panel":"P3T1S50","series":"unsupp._L","x":25,"y":0},{"panel":"P3T1S50","series":"unsupp._L","x":44,"y":0},{"panel":"P3T1S50","series":"unsupp._L","x":47,"y":4},{"panel":"P3T1S50","series":"unsupp._L","x":50,"y":7.8},{"panel":"P3T1S50","series":"unsupp._L","x":60,"y":8},{"panel":"P3T1S50","series":"unsupp._L","x":75,"y":7.8},{"panel":"P3T1S50","series":"unsupp._L","x":87,"y":8},{"panel":"P3T1S50","series":"unsupp._L","x":90,"y":9},{"panel":"P3T1S50","series":"unsupp._L","x":92,"y":6},{"panel":"P3T1S50","series":"unsupp._L","x":94,"y":1},{"panel":"P3T1S50","series":"unsupp._L","x":96,"y":0},{"panel":"P3T1S50","series":"unsupp._L","x":100,"y":0},
{"panel":"P3T1S50","series":"supp._L","x":0,"y":0},{"panel":"P3T1S50","series":"supp._L","x":10,"y":0},{"panel":"P3T1S50","series":"supp._L","x":25,"y":0.3},{"panel":"P3T1S50","series":"supp._L","x":40,"y":0},{"panel":"P3T1S50","series":"supp._L","x":43,"y":3},{"panel":"P3T1S50","series":"supp._L","x":46,"y":7},{"panel":"P3T1S50","series":"supp._L","x":50,"y":7.5},{"panel":"P3T1S50","series":"supp._L","x":65,"y":7.7},{"panel":"P3T1S50","series":"supp._L","x":80,"y":7.6},{"panel":"P3T1S50","series":"supp._L","x":86,"y":8},{"panel":"P3T1S50","series":"supp._L","x":88,"y":9},{"panel":"P3T1S50","series":"supp._L","x":90,"y":6},{"panel":"P3T1S50","series":"supp._L","x":92,"y":1},{"panel":"P3T1S50","series":"supp._L","x":94,"y":0},{"panel":"P3T1S50","series":"supp._L","x":100,"y":0},

{"panel":"P3T1S100","series":"unsupp._R","x":0,"y":0},{"panel":"P3T1S100","series":"unsupp._R","x":3,"y":7},{"panel":"P3T1S100","series":"unsupp._R","x":6,"y":11},{"panel":"P3T1S100","series":"unsupp._R","x":9,"y":11.5},{"panel":"P3T1S100","series":"unsupp._R","x":11,"y":9},{"panel":"P3T1S100","series":"unsupp._R","x":13,"y":1},{"panel":"P3T1S100","series":"unsupp._R","x":15,"y":0},{"panel":"P3T1S100","series":"unsupp._R","x":25,"y":0.5},{"panel":"P3T1S100","series":"unsupp._R","x":30,"y":0.3},{"panel":"P3T1S100","series":"unsupp._R","x":35,"y":0.5},{"panel":"P3T1S100","series":"unsupp._R","x":37,"y":5},{"panel":"P3T1S100","series":"unsupp._R","x":40,"y":10},{"panel":"P3T1S100","series":"unsupp._R","x":43,"y":15},{"panel":"P3T1S100","series":"unsupp._R","x":45,"y":19.5},{"panel":"P3T1S100","series":"unsupp._R","x":47,"y":16},{"panel":"P3T1S100","series":"unsupp._R","x":50,"y":10},{"panel":"P3T1S100","series":"unsupp._R","x":60,"y":9.5},{"panel":"P3T1S100","series":"unsupp._R","x":70,"y":9.5},{"panel":"P3T1S100","series":"unsupp._R","x":80,"y":9.5},{"panel":"P3T1S100","series":"unsupp._R","x":85,"y":8},{"panel":"P3T1S100","series":"unsupp._R","x":87,"y":6},{"panel":"P3T1S100","series":"unsupp._R","x":89,"y":12},{"panel":"P3T1S100","series":"unsupp._R","x":91,"y":20},{"panel":"P3T1S100","series":"unsupp._R","x":93,"y":15},{"panel":"P3T1S100","series":"unsupp._R","x":95,"y":4},{"panel":"P3T1S100","series":"unsupp._R","x":96,"y":0},{"panel":"P3T1S100","series":"unsupp._R","x":100,"y":0},
{"panel":"P3T1S100","series":"supp._R","x":0,"y":0},{"panel":"P3T1S100","series":"supp._R","x":3,"y":9},{"panel":"P3T1S100","series":"supp._R","x":6,"y":11},{"panel":"P3T1S100","series":"supp._R","x":8,"y":11},{"panel":"P3T1S100","series":"supp._R","x":10,"y":8},{"panel":"P3T1S100","series":"supp._R","x":12,"y":5},{"panel":"P3T1S100","series":"supp._R","x":15,"y":3},{"panel":"P3T1S100","series":"supp._R","x":20,"y":2.5},{"panel":"P3T1S100","series":"supp._R","x":30,"y":2.5},{"panel":"P3T1S100","series":"supp._R","x":35,"y":5},{"panel":"P3T1S100","series":"supp._R","x":38,"y":10},{"panel":"P3T1S100","series":"supp._R","x":42,"y":14},{"panel":"P3T1S100","series":"supp._R","x":45,"y":17},{"panel":"P3T1S100","series":"supp._R","x":48,"y":13},{"panel":"P3T1S100","series":"supp._R","x":52,"y":10},{"panel":"P3T1S100","series":"supp._R","x":60,"y":9.5},{"panel":"P3T1S100","series":"supp._R","x":70,"y":9.5},{"panel":"P3T1S100","series":"supp._R","x":80,"y":10},{"panel":"P3T1S100","series":"supp._R","x":85,"y":12},{"panel":"P3T1S100","series":"supp._R","x":88,"y":20},{"panel":"P3T1S100","series":"supp._R","x":90,"y":16},{"panel":"P3T1S100","series":"supp._R","x":92,"y":5},{"panel":"P3T1S100","series":"supp._R","x":94,"y":0},{"panel":"P3T1S100","series":"supp._R","x":100,"y":0},
{"panel":"P3T1S100","series":"unsupp._L","x":0,"y":0},{"panel":"P3T1S100","series":"unsupp._L","x":8,"y":0},{"panel":"P3T1S100","series":"unsupp._L","x":10,"y":1},{"panel":"P3T1S100","series":"unsupp._L","x":12,"y":2},{"panel":"P3T1S100","series":"unsupp._L","x":15,"y":1},{"panel":"P3T1S100","series":"unsupp._L","x":20,"y":0.3},{"panel":"P3T1S100","series":"unsupp._L","x":30,"y":0.2},{"panel":"P3T1S100","series":"unsupp._L","x":40,"y":0},{"panel":"P3T1S100","series":"unsupp._L","x":43,"y":3},{"panel":"P3T1S100","series":"unsupp._L","x":46,"y":12},{"panel":"P3T1S100","series":"unsupp._L","x":50,"y":18},{"panel":"P3T1S100","series":"unsupp._L","x":60,"y":17.8},{"panel":"P3T1S100","series":"unsupp._L","x":70,"y":17.5},{"panel":"P3T1S100","series":"unsupp._L","x":80,"y":17.5},{"panel":"P3T1S100","series":"unsupp._L","x":88,"y":18},{"panel":"P3T1S100","series":"unsupp._L","x":91,"y":19.5},{"panel":"P3T1S100","series":"unsupp._L","x":93,"y":10},{"panel":"P3T1S100","series":"unsupp._L","x":95,"y":0},{"panel":"P3T1S100","series":"unsupp._L","x":97,"y":5},{"panel":"P3T1S100","series":"unsupp._L","x":98,"y":7},{"panel":"P3T1S100","series":"unsupp._L","x":99,"y":3},{"panel":"P3T1S100","series":"unsupp._L","x":100,"y":0},
{"panel":"P3T1S100","series":"supp._L","x":0,"y":0},{"panel":"P3T1S100","series":"supp._L","x":10,"y":0},{"panel":"P3T1S100","series":"supp._L","x":13,"y":3},{"panel":"P3T1S100","series":"supp._L","x":15,"y":5},{"panel":"P3T1S100","series":"supp._L","x":18,"y":3.5},{"panel":"P3T1S100","series":"supp._L","x":22,"y":3},{"panel":"P3T1S100","series":"supp._L","x":30,"y":4},{"panel":"P3T1S100","series":"supp._L","x":35,"y":3.5},{"panel":"P3T1S100","series":"supp._L","x":40,"y":3},{"panel":"P3T1S100","series":"supp._L","x":43,"y":6},{"panel":"P3T1S100","series":"supp._L","x":46,"y":14},{"panel":"P3T1S100","series":"supp._L","x":49,"y":16.5},{"panel":"P3T1S100","series":"supp._L","x":55,"y":15.5},{"panel":"P3T1S100","series":"supp._L","x":65,"y":15.5},{"panel":"P3T1S100","series":"supp._L","x":75,"y":15.7},{"panel":"P3T1S100","series":"supp._L","x":82,"y":16},{"panel":"P3T1S100","series":"supp._L","x":86,"y":17},{"panel":"P3T1S100","series":"supp._L","x":88,"y":18},{"panel":"P3T1S100","series":"supp._L","x":90,"y":12},{"panel":"P3T1S100","series":"supp._L","x":92,"y":3},{"panel":"P3T1S100","series":"supp._L","x":94,"y":0},{"panel":"P3T1S100","series":"supp._L","x":100,"y":0},

{"panel":"P3T2S50","series":"unsupp._R","x":0,"y":0},{"panel":"P3T2S50","series":"unsupp._R","x":3,"y":2},{"panel":"P3T2S50","series":"unsupp._R","x":6,"y":5},{"panel":"P3T2S50","series":"unsupp._R","x":8,"y":3},{"panel":"P3T2S50","series":"unsupp._R","x":10,"y":0},{"panel":"P3T2S50","series":"unsupp._R","x":15,"y":0},{"panel":"P3T2S50","series":"unsupp._R","x":20,"y":0.5},{"panel":"P3T2S50","series":"unsupp._R","x":22,"y":3},{"panel":"P3T2S50","series":"unsupp._R","x":25,"y":7.5},{"panel":"P3T2S50","series":"unsupp._R","x":30,"y":8},{"panel":"P3T2S50","series":"unsupp._R","x":35,"y":7.5},{"panel":"P3T2S50","series":"unsupp._R","x":45,"y":7},{"panel":"P3T2S50","series":"unsupp._R","x":60,"y":6.8},{"panel":"P3T2S50","series":"unsupp._R","x":75,"y":6.3},{"panel":"P3T2S50","series":"unsupp._R","x":85,"y":5},{"panel":"P3T2S50","series":"unsupp._R","x":89,"y":8},{"panel":"P3T2S50","series":"unsupp._R","x":91,"y":9},{"panel":"P3T2S50","series":"unsupp._R","x":93,"y":6},{"panel":"P3T2S50","series":"unsupp._R","x":95,"y":0},{"panel":"P3T2S50","series":"unsupp._R","x":100,"y":0},
{"panel":"P3T2S50","series":"supp._R","x":0,"y":0},{"panel":"P3T2S50","series":"supp._R","x":3,"y":1},{"panel":"P3T2S50","series":"supp._R","x":5,"y":1.5},{"panel":"P3T2S50","series":"supp._R","x":8,"y":1},{"panel":"P3T2S50","series":"supp._R","x":12,"y":0.5},{"panel":"P3T2S50","series":"supp._R","x":20,"y":1},{"panel":"P3T2S50","series":"supp._R","x":22,"y":4},{"panel":"P3T2S50","series":"supp._R","x":25,"y":7.5},{"panel":"P3T2S50","series":"supp._R","x":35,"y":7.8},{"panel":"P3T2S50","series":"supp._R","x":50,"y":7.5},{"panel":"P3T2S50","series":"supp._R","x":70,"y":7.5},{"panel":"P3T2S50","series":"supp._R","x":85,"y":7},{"panel":"P3T2S50","series":"supp._R","x":89,"y":8.5},{"panel":"P3T2S50","series":"supp._R","x":91,"y":8},{"panel":"P3T2S50","series":"supp._R","x":93,"y":2},{"panel":"P3T2S50","series":"supp._R","x":95,"y":0},{"panel":"P3T2S50","series":"supp._R","x":100,"y":0},
{"panel":"P3T2S50","series":"unsupp._L","x":0,"y":0},{"panel":"P3T2S50","series":"unsupp._L","x":3,"y":1.5},{"panel":"P3T2S50","series":"unsupp._L","x":5,"y":2},{"panel":"P3T2S50","series":"unsupp._L","x":8,"y":1.5},{"panel":"P3T2S50","series":"unsupp._L","x":12,"y":1},{"panel":"P3T2S50","series":"unsupp._L","x":17,"y":0.5},{"panel":"P3T2S50","series":"unsupp._L","x":20,"y":1},{"panel":"P3T2S50","series":"unsupp._L","x":23,"y":5},{"panel":"P3T2S50","series":"unsupp._L","x":26,"y":7.5},{"panel":"P3T2S50","series":"unsupp._L","x":35,"y":8},{"panel":"P3T2S50","series":"unsupp._L","x":50,"y":8.2},{"panel":"P3T2S50","series":"unsupp._L","x":70,"y":8},{"panel":"P3T2S50","series":"unsupp._L","x":85,"y":8},{"panel":"P3T2S50","series":"unsupp._L","x":89,"y":8.7},{"panel":"P3T2S50","series":"unsupp._L","x":91,"y":8.5},{"panel":"P3T2S50","series":"unsupp._L","x":93,"y":2},{"panel":"P3T2S50","series":"unsupp._L","x":95,"y":0},{"panel":"P3T2S50","series":"unsupp._L","x":100,"y":0},
{"panel":"P3T2S50","series":"supp._L","x":0,"y":0},{"panel":"P3T2S50","series":"supp._L","x":3,"y":1.2},{"panel":"P3T2S50","series":"supp._L","x":5,"y":1.5},{"panel":"P3T2S50","series":"supp._L","x":8,"y":1},{"panel":"P3T2S50","series":"supp._L","x":12,"y":0.8},{"panel":"P3T2S50","series":"supp._L","x":17,"y":1},{"panel":"P3T2S50","series":"supp._L","x":21,"y":1.5},{"panel":"P3T2S50","series":"supp._L","x":24,"y":6},{"panel":"P3T2S50","series":"supp._L","x":27,"y":7.5},{"panel":"P3T2S50","series":"supp._L","x":40,"y":8},{"panel":"P3T2S50","series":"supp._L","x":60,"y":8},{"panel":"P3T2S50","series":"supp._L","x":80,"y":7.8},{"panel":"P3T2S50","series":"supp._L","x":88,"y":8.5},{"panel":"P3T2S50","series":"supp._L","x":90,"y":8.5},{"panel":"P3T2S50","series":"supp._L","x":92,"y":3},{"panel":"P3T2S50","series":"supp._L","x":94,"y":0},{"panel":"P3T2S50","series":"supp._L","x":100,"y":0},

{"panel":"P3T2S100","series":"unsupp._R","x":0,"y":0},{"panel":"P3T2S100","series":"unsupp._R","x":3,"y":6},{"panel":"P3T2S100","series":"unsupp._R","x":5,"y":10},{"panel":"P3T2S100","series":"unsupp._R","x":7,"y":8},{"panel":"P3T2S100","series":"unsupp._R","x":9,"y":2},{"panel":"P3T2S100","series":"unsupp._R","x":11,"y":0},{"panel":"P3T2S100","series":"unsupp._R","x":15,"y":0.5},{"panel":"P3T2S100","series":"unsupp._R","x":18,"y":1.5},{"panel":"P3T2S100","series":"unsupp._R","x":20,"y":4},{"panel":"P3T2S100","series":"unsupp._R","x":24,"y":14},{"panel":"P3T2S100","series":"unsupp._R","x":27,"y":17.5},{"panel":"P3T2S100","series":"unsupp._R","x":30,"y":15},{"panel":"P3T2S100","series":"unsupp._R","x":34,"y":14.5},{"panel":"P3T2S100","series":"unsupp._R","x":38,"y":15.5},{"panel":"P3T2S100","series":"unsupp._R","x":42,"y":16.5},{"panel":"P3T2S100","series":"unsupp._R","x":46,"y":15},{"panel":"P3T2S100","series":"unsupp._R","x":55,"y":14},{"panel":"P3T2S100","series":"unsupp._R","x":70,"y":13.5},{"panel":"P3T2S100","series":"unsupp._R","x":80,"y":12.5},{"panel":"P3T2S100","series":"unsupp._R","x":85,"y":11},{"panel":"P3T2S100","series":"unsupp._R","x":88,"y":14},{"panel":"P3T2S100","series":"unsupp._R","x":91,"y":19.5},{"panel":"P3T2S100","series":"unsupp._R","x":93,"y":12},{"panel":"P3T2S100","series":"unsupp._R","x":95,"y":0},{"panel":"P3T2S100","series":"unsupp._R","x":100,"y":0},
{"panel":"P3T2S100","series":"supp._R","x":0,"y":0},{"panel":"P3T2S100","series":"supp._R","x":3,"y":4},{"panel":"P3T2S100","series":"supp._R","x":5,"y":6},{"panel":"P3T2S100","series":"supp._R","x":7,"y":2},{"panel":"P3T2S100","series":"supp._R","x":9,"y":1},{"panel":"P3T2S100","series":"supp._R","x":12,"y":5},{"panel":"P3T2S100","series":"supp._R","x":15,"y":8},{"panel":"P3T2S100","series":"supp._R","x":18,"y":12},{"panel":"P3T2S100","series":"supp._R","x":21,"y":17.5},{"panel":"P3T2S100","series":"supp._R","x":25,"y":17},{"panel":"P3T2S100","series":"supp._R","x":35,"y":16},{"panel":"P3T2S100","series":"supp._R","x":50,"y":16},{"panel":"P3T2S100","series":"supp._R","x":65,"y":15.5},{"panel":"P3T2S100","series":"supp._R","x":75,"y":16},{"panel":"P3T2S100","series":"supp._R","x":83,"y":17},{"panel":"P3T2S100","series":"supp._R","x":87,"y":19.5},{"panel":"P3T2S100","series":"supp._R","x":89,"y":18},{"panel":"P3T2S100","series":"supp._R","x":91,"y":6},{"panel":"P3T2S100","series":"supp._R","x":93,"y":0},{"panel":"P3T2S100","series":"supp._R","x":100,"y":0},
{"panel":"P3T2S100","series":"unsupp._L","x":0,"y":0},{"panel":"P3T2S100","series":"unsupp._L","x":3,"y":3},{"panel":"P3T2S100","series":"unsupp._L","x":5,"y":5},{"panel":"P3T2S100","series":"unsupp._L","x":8,"y":3},{"panel":"P3T2S100","series":"unsupp._L","x":11,"y":2},{"panel":"P3T2S100","series":"unsupp._L","x":15,"y":2.5},{"panel":"P3T2S100","series":"unsupp._L","x":20,"y":3},{"panel":"P3T2S100","series":"unsupp._L","x":23,"y":8},{"panel":"P3T2S100","series":"unsupp._L","x":26,"y":17},{"panel":"P3T2S100","series":"unsupp._L","x":30,"y":17.5},{"panel":"P3T2S100","series":"unsupp._L","x":40,"y":18.5},{"panel":"P3T2S100","series":"unsupp._L","x":55,"y":18.3},{"panel":"P3T2S100","series":"unsupp._L","x":70,"y":18},{"panel":"P3T2S100","series":"unsupp._L","x":85,"y":17.8},{"panel":"P3T2S100","series":"unsupp._L","x":90,"y":18.5},{"panel":"P3T2S100","series":"unsupp._L","x":92,"y":19},{"panel":"P3T2S100","series":"unsupp._L","x":93,"y":8},{"panel":"P3T2S100","series":"unsupp._L","x":94,"y":0},{"panel":"P3T2S100","series":"unsupp._L","x":96,"y":6},{"panel":"P3T2S100","series":"unsupp._L","x":97,"y":7.5},{"panel":"P3T2S100","series":"unsupp._L","x":98,"y":2},{"panel":"P3T2S100","series":"unsupp._L","x":100,"y":0},
{"panel":"P3T2S100","series":"supp._L","x":0,"y":0},{"panel":"P3T2S100","series":"supp._L","x":3,"y":1.5},{"panel":"P3T2S100","series":"supp._L","x":6,"y":2},{"panel":"P3T2S100","series":"supp._L","x":10,"y":2},{"panel":"P3T2S100","series":"supp._L","x":13,"y":4},{"panel":"P3T2S100","series":"supp._L","x":16,"y":7},{"panel":"P3T2S100","series":"supp._L","x":19,"y":12},{"panel":"P3T2S100","series":"supp._L","x":23,"y":16},{"panel":"P3T2S100","series":"supp._L","x":26,"y":17.5},{"panel":"P3T2S100","series":"supp._L","x":35,"y":18},{"panel":"P3T2S100","series":"supp._L","x":50,"y":18},{"panel":"P3T2S100","series":"supp._L","x":70,"y":17.8},{"panel":"P3T2S100","series":"supp._L","x":82,"y":17.5},{"panel":"P3T2S100","series":"supp._L","x":87,"y":18.5},{"panel":"P3T2S100","series":"supp._L","x":90,"y":19.5},{"panel":"P3T2S100","series":"supp._L","x":91,"y":10},{"panel":"P3T2S100","series":"supp._L","x":93,"y":0},{"panel":"P3T2S100","series":"supp._L","x":100,"y":0}
]},
"columns": 4,
"facet": {"field": "panel", "type": "nominal",
  "sort": ["P1T1S50","P1T1S100","P1T2S50","P1T2S100","P2T1S50","P2T1S100","P2T2S50","P2T2S100","P3T1S50","P3T1S100","P3T2S50","P3T2S100"],
  "header": {"title": "Motion [%]", "titleOrient": "bottom", "titleFont": "Liberation Sans", "titleFontSize": 11, "titleFontWeight": "bold", "titleColor": "#222", "titlePadding": 0,
    "labelFont": "Liberation Sans", "labelFontSize": 8.5, "labelFontWeight": "bold", "labelColor": "#111", "labelPadding": -3}},
"spacing": {"row": 3, "column": 3},
"resolve": {"axis": {"x": "independent", "y": "independent"}},
"spec": {
  "width": 108, "height": 87,
  "mark": {"type": "line", "strokeWidth": 1.2, "interpolate": "monotone"},
  "encoding": {
    "x": {"field": "x", "type": "quantitative", "scale": {"domain": [0, 100], "nice": false}, "axis": {"title": null, "values": [0, 50, 100]}},
    "y": {"field": "y", "type": "quantitative", "scale": {"domain": [-2, 26], "nice": false}, "axis": {"title": null, "values": [0, 5, 10, 15, 20, 25]}},
    "color": {"field": "series", "type": "nominal", "title": null,
      "scale": {"domain": ["unsupp._R", "unsupp._L", "supp._R", "supp._L"], "range": ["#C98B2B", "#3C5DC8", "#C98B2B", "#3C5DC8"]},
      "legend": {"orient": "none", "legendX": 133, "legendY": -27, "direction": "horizontal", "gridAlign": "none", "symbolType": "stroke", "symbolSize": 250, "symbolStrokeWidth": 1.5, "labelFont": "Liberation Sans", "labelFontSize": 8.5, "labelColor": "#222", "labelOffset": 2, "columnPadding": 2, "padding": 2, "strokeColor": "#999", "fillColor": "white"}},
    "strokeDash": {"field": "series", "type": "nominal", "title": null,
      "scale": {"domain": ["unsupp._R", "unsupp._L", "supp._R", "supp._L"], "range": [[1, 0], [1, 0], [4, 3], [4, 3]]},
      "legend": {"orient": "none", "legendX": 133, "legendY": -27, "direction": "horizontal", "gridAlign": "none", "symbolType": "stroke", "symbolSize": 250, "symbolStrokeWidth": 1.5, "labelFont": "Liberation Sans", "labelFontSize": 8.5, "labelColor": "#222", "labelOffset": 2, "columnPadding": 2, "padding": 2, "strokeColor": "#999", "fillColor": "white"}}
  }
},
"config": {
  "view": {"stroke": null},
  "axis": {"grid": false, "domainColor": "#888", "tickColor": "#888", "tickSize": 2, "labelColor": "#444", "labelFont": "Liberation Sans", "labelFontSize": 10, "labelPadding": 1, "labelFlush": false}
}
}
